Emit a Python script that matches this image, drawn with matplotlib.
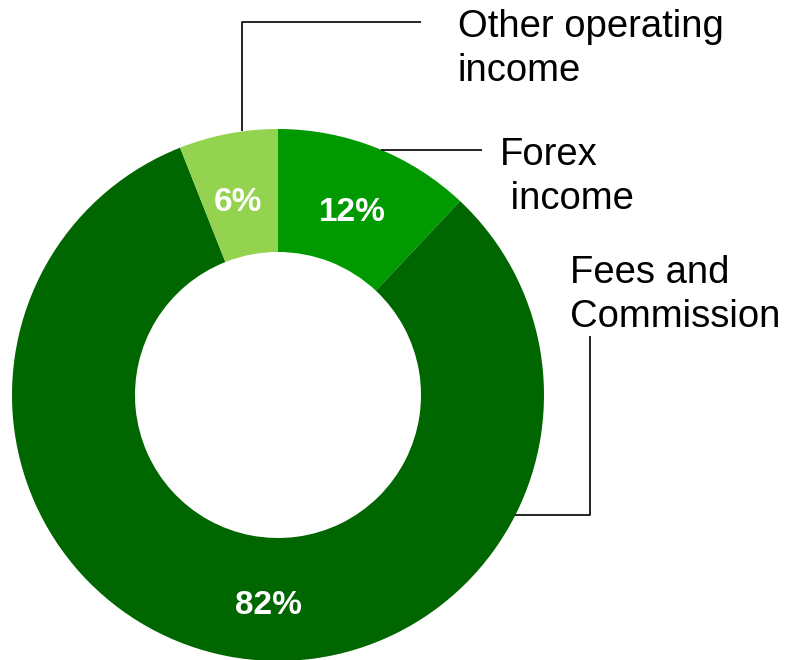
import matplotlib.pyplot as plt

# income split, clockwise from 12 o'clock
names = [['Forex', ' income'], ['Fees and', 'Commission'], ['Other operating', 'income']]
shares = [12, 82, 6]
colors = ['#009900', '#006600', '#94d350']

W, H = 786, 660
fig = plt.figure(figsize=(W / 100, H / 100), dpi=100)
ax = fig.add_axes([0, 0, 1, 1])

cx, cy, R = 278, H - 395, 266
wedges, _ = ax.pie(shares, colors=colors, radius=R, center=(cx, cy),
                   startangle=90, counterclock=False,
                   wedgeprops=dict(width=123, linewidth=0))
ax.set_xlim(0, W)
ax.set_ylim(0, H)
ax.set_aspect('equal')
ax.axis('off')

# percentage labels inside the ring (x centre, baseline)
pct_pos = [(352, H - 221), (268, H - 614), (238, H - 211)]
for (x, y), v in zip(pct_pos, shares):
    ax.text(x, y, '{}%'.format(v), color='white', fontsize=24, fontweight='bold',
            family=['DejaVu Sans Condensed', 'Liberation Sans Narrow', 'Liberation Sans'],
            ha='center', va='baseline')

# leader lines
lk = dict(color='black', lw=1.2, solid_capstyle='butt')
ax.plot([242, 242, 421], [H - 131, H - 22, H - 22], **lk)
ax.plot([381, 482], [H - 150, H - 150], **lk)
ax.plot([515, 590, 590], [H - 515, H - 515, H - 336], **lk)

# category names, one text per line (left x, first baseline)
name_pos = [(500, H - 165), (570, H - 283), (458, H - 37)]
for (x, y), lines in zip(name_pos, names):
    for i, s in enumerate(lines):
        ax.text(x, y - 44 * i, s, fontsize=27.5, family=['Liberation Sans', 'DejaVu Sans'],
                ha='left', va='baseline')

plt.savefig('out.png', dpi=100)
